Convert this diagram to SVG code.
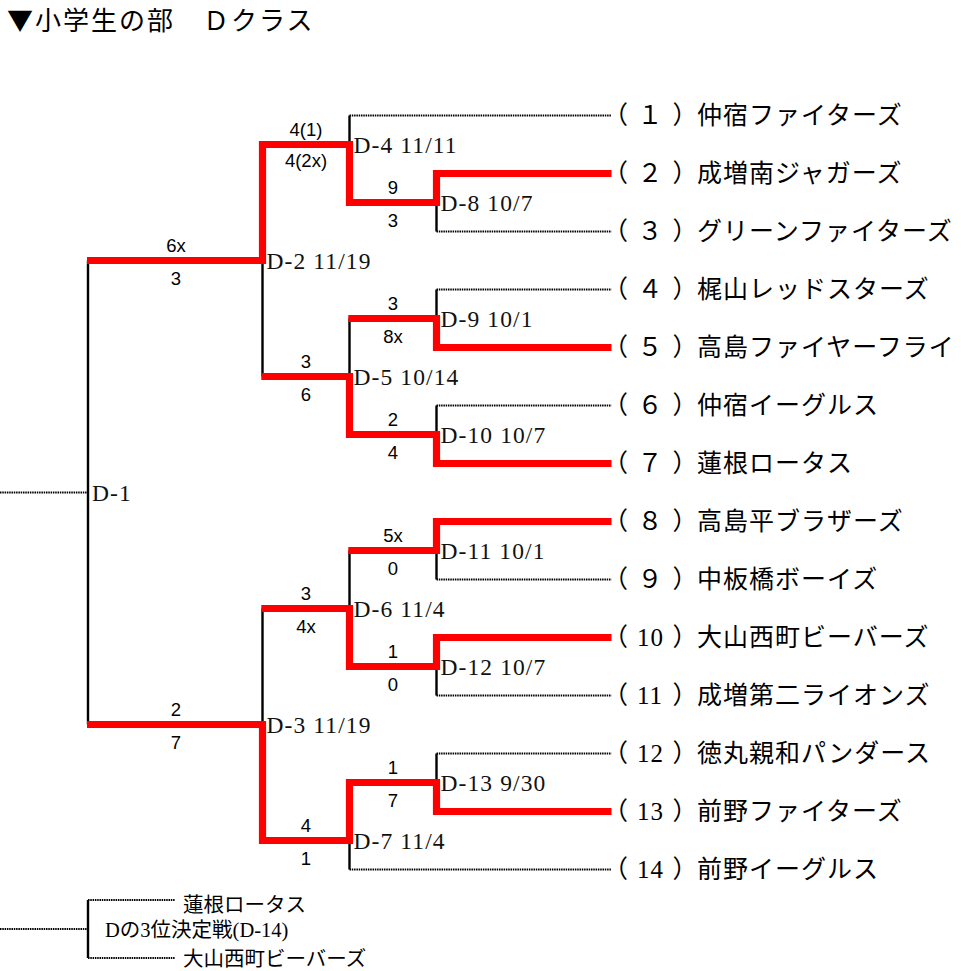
<svg xmlns="http://www.w3.org/2000/svg" width="961" height="971" viewBox="0 0 961 971">
<style>
  .dot { stroke:#000; stroke-width:1.8; stroke-dasharray:1.5 0.8; fill:none; }
  .vl { stroke:#000; stroke-width:2.4; fill:none; }
  .win { stroke:#ff0000; stroke-width:7.2; fill:none; stroke-linejoin:miter; stroke-linecap:butt; }
  .team { font-family:"Liberation Serif","Noto Sans CJK JP",serif; font-size:25px; letter-spacing:1px; fill:#000; }
  .match { font-family:"Liberation Serif","Noto Sans CJK JP",serif; font-size:23.5px; letter-spacing:1.1px; fill:#111; }
  .score { font-family:"Liberation Sans",Arial,sans-serif; font-size:18.5px; text-anchor:middle; fill:#000; }
  .third { font-family:"Liberation Serif","Noto Sans CJK JP",serif; font-size:20.5px; fill:#000; }
  .title { font-family:"Noto Sans CJK JP","Liberation Serif",sans-serif; font-size:26px; letter-spacing:2px; fill:#000; }
</style>
<rect width="961" height="971" fill="#fff"/>

<g id="title"><text class="title" x="7" y="30">▼小学生の部　Ｄクラス</text></g>

<g id="connectors">
  <!-- dotted losing team lines and inputs -->
  <path class="dot" d="M349.5 115.5H611.5M436.5 231.5H611.5M436.5 289.5H611.5M436.5 405.5H611.5M436.5 579.5H611.5M436.5 695.5H611.5M436.5 753.5H611.5M349.5 869.5H611.5M0 492.5H88M88 900H175M88 958H175M0 929H88"/>
  <!-- black verticals -->
  <path class="vl" d="M436.5 173.5V231.5M436.5 289.5V347.5M436.5 405.5V463.5M436.5 521.5V579.5M436.5 637.5V695.5M436.5 753.5V811.5M349.5 115.5V202.5M349.5 318.5V434.5M349.5 550.5V666.5M349.5 782.5V869.5M262.5 144.5V376.5M262.5 608.5V840.5M88 260.5V724.5M88 900V958"/>
  <!-- winner paths -->
  <path class="win" d="M611.5 173.5H436.5V202.5H349.5V144.5H262.5V260.5H87"/>
  <path class="win" d="M611.5 347.5H436.5V318.5H348.3"/>
  <path class="win" d="M611.5 463.5H436.5V434.5H349.5V376.5H261.3"/>
  <path class="win" d="M611.5 521.5H436.5V550.5H348.3"/>
  <path class="win" d="M611.5 637.5H436.5V666.5H349.5V608.5H261.3"/>
  <path class="win" d="M611.5 811.5H436.5V782.5H349.5V840.5H262.5V724.5H87"/>
</g>

<g id="scores">
  <text class="score" x="176" y="251.5">6x</text><text class="score" x="176" y="285">3</text>
  <text class="score" x="176" y="715.5">2</text><text class="score" x="176" y="749">7</text>
  <text class="score" x="306" y="136">4(1)</text><text class="score" x="306" y="166.5">4(2x)</text>
  <text class="score" x="306" y="367.5">3</text><text class="score" x="306" y="401">6</text>
  <text class="score" x="306" y="599.5">3</text><text class="score" x="306" y="633">4x</text>
  <text class="score" x="306" y="831.5">4</text><text class="score" x="306" y="865">1</text>
  <text class="score" x="393" y="193.5">9</text><text class="score" x="393" y="227">3</text>
  <text class="score" x="393" y="309.5">3</text><text class="score" x="393" y="343">8x</text>
  <text class="score" x="393" y="425.5">2</text><text class="score" x="393" y="459">4</text>
  <text class="score" x="393" y="541.5">5x</text><text class="score" x="393" y="575">0</text>
  <text class="score" x="393" y="657.5">1</text><text class="score" x="393" y="691">0</text>
  <text class="score" x="393" y="773.5">1</text><text class="score" x="393" y="807">7</text>
</g>

<g id="match-D-1"><text class="match" x="92" y="500.5">D-1</text></g>
<g id="match-D-2"><text class="match" x="266.5" y="268.5">D-2 11/19</text></g>
<g id="match-D-3"><text class="match" x="266.5" y="732.5">D-3 11/19</text></g>
<g id="match-D-4"><text class="match" x="353.5" y="152.5">D-4 11/11</text></g>
<g id="match-D-5"><text class="match" x="353.5" y="384.5">D-5 10/14</text></g>
<g id="match-D-6"><text class="match" x="353.5" y="616.5">D-6 11/4</text></g>
<g id="match-D-7"><text class="match" x="353.5" y="848.5">D-7 11/4</text></g>
<g id="match-D-8"><text class="match" x="440.5" y="210.5">D-8 10/7</text></g>
<g id="match-D-9"><text class="match" x="440.5" y="326.5">D-9 10/1</text></g>
<g id="match-D-10"><text class="match" x="440.5" y="442.5">D-10 10/7</text></g>
<g id="match-D-11"><text class="match" x="440.5" y="558.5">D-11 10/1</text></g>
<g id="match-D-12"><text class="match" x="440.5" y="674.5">D-12 10/7</text></g>
<g id="match-D-13"><text class="match" x="440.5" y="790.5">D-13 9/30</text></g>

<g id="team-1"><text class="team" y="124"><tspan x="603">（</tspan> <tspan x="637.5">１</tspan> <tspan x="672.5">）</tspan><tspan x="697">仲宿ファイターズ</tspan></text></g>
<g id="team-2"><text class="team" y="182"><tspan x="603">（</tspan> <tspan x="637.5">２</tspan> <tspan x="672.5">）</tspan><tspan x="697">成増南ジャガーズ</tspan></text></g>
<g id="team-3"><text class="team" y="240"><tspan x="603">（</tspan> <tspan x="637.5">３</tspan> <tspan x="672.5">）</tspan><tspan x="697">グリーンファイターズ</tspan></text></g>
<g id="team-4"><text class="team" y="298"><tspan x="603">（</tspan> <tspan x="637.5">４</tspan> <tspan x="672.5">）</tspan><tspan x="697">梶山レッドスターズ</tspan></text></g>
<g id="team-5"><text class="team" y="356"><tspan x="603">（</tspan> <tspan x="637.5">５</tspan> <tspan x="672.5">）</tspan><tspan x="697">高島ファイヤーフライ</tspan></text></g>
<g id="team-6"><text class="team" y="414"><tspan x="603">（</tspan> <tspan x="637.5">６</tspan> <tspan x="672.5">）</tspan><tspan x="697">仲宿イーグルス</tspan></text></g>
<g id="team-7"><text class="team" y="472"><tspan x="603">（</tspan> <tspan x="637.5">７</tspan> <tspan x="672.5">）</tspan><tspan x="697">蓮根ロータス</tspan></text></g>
<g id="team-8"><text class="team" y="530"><tspan x="603">（</tspan> <tspan x="637.5">８</tspan> <tspan x="672.5">）</tspan><tspan x="697">高島平ブラザーズ</tspan></text></g>
<g id="team-9"><text class="team" y="588"><tspan x="603">（</tspan> <tspan x="637.5">９</tspan> <tspan x="672.5">）</tspan><tspan x="697">中板橋ボーイズ</tspan></text></g>
<g id="team-10"><text class="team" y="646"><tspan x="603">（</tspan> <tspan x="637">10</tspan> <tspan x="672.5">）</tspan><tspan x="697">大山西町ビーバーズ</tspan></text></g>
<g id="team-11"><text class="team" y="704"><tspan x="603">（</tspan> <tspan x="637">11</tspan> <tspan x="672.5">）</tspan><tspan x="697">成増第二ライオンズ</tspan></text></g>
<g id="team-12"><text class="team" y="762"><tspan x="603">（</tspan> <tspan x="637">12</tspan> <tspan x="672.5">）</tspan><tspan x="697">徳丸親和パンダース</tspan></text></g>
<g id="team-13"><text class="team" y="820"><tspan x="603">（</tspan> <tspan x="637">13</tspan> <tspan x="672.5">）</tspan><tspan x="697">前野ファイターズ</tspan></text></g>
<g id="team-14"><text class="team" y="878"><tspan x="603">（</tspan> <tspan x="637">14</tspan> <tspan x="672.5">）</tspan><tspan x="697">前野イーグルス</tspan></text></g>

<g id="match-D-14">
  <text class="third" x="183" y="911.5">蓮根ロータス</text>
  <text class="third" x="105" y="937">Dの3位決定戦(D-14)</text>
  <text class="third" x="183" y="966">大山西町ビーバーズ</text>
</g>
</svg>
